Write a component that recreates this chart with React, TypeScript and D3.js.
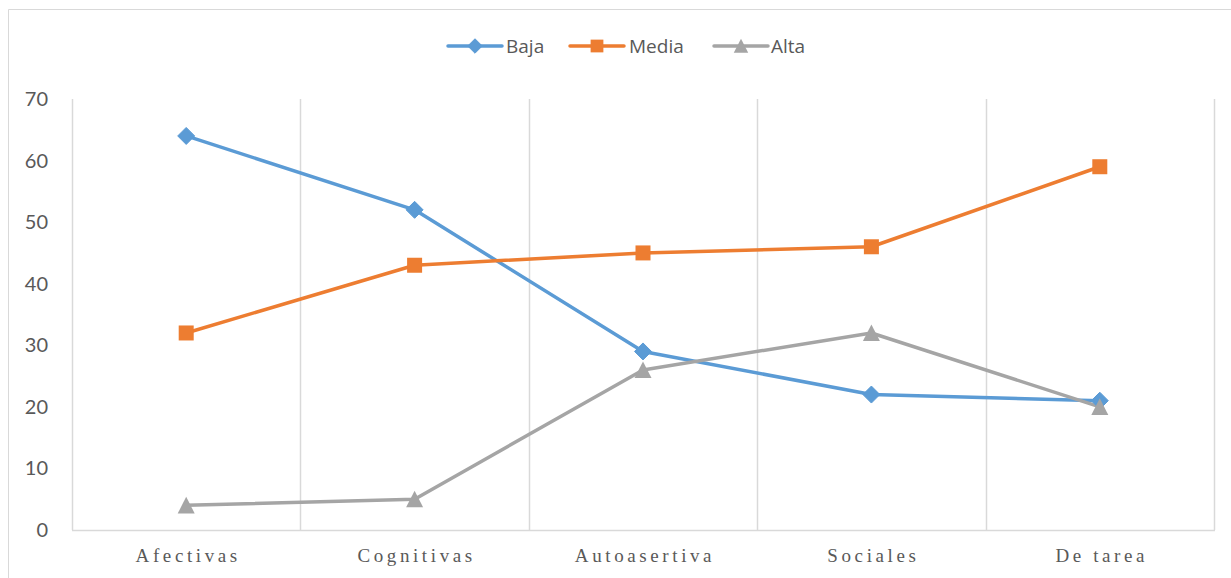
import React from "react";
import * as d3 from "d3";

const categories = ["Afectivas", "Cognitivas", "Autoasertiva", "Sociales", "De tarea"];
const seriesNames = ["Baja", "Media", "Alta"];
const baja = [64, 52, 29, 22, 21];
const media = [32, 43, 45, 46, 59];
const alta = [4, 5, 26, 32, 20];
const yTicks = [0, 10, 20, 30, 40, 50, 60, 70];
const colors = ["#5B9BD5", "#ED7D31", "#A5A5A5"];
const markers = ["diamond", "square", "triangle"];

const W = 1231;
const H = 578;
const left = 72;
const right = 1214;
const top = 99;
const bottom = 530;

function Marker({ type, x, y, color, k = 1 }: { type: string; x: number; y: number; color: string; k?: number }) {
  if (type === "diamond") {
    const r = 8.5 * k;
    return (
      <path
        d={`M${x},${y - r}L${x + r},${y}L${x},${y + r}L${x - r},${y}Z`}
        fill={color}
        stroke={color}
        strokeWidth={1}
        strokeLinejoin="round"
      />
    );
  }
  if (type === "square") {
    const h = 7.5 * k;
    return <rect x={x - h} y={y - h} width={2 * h} height={2 * h} fill={color} />;
  }
  const h = 8.5 * k;
  return <path d={`M${x},${y - h}L${x + h},${y + h * 0.95}L${x - h},${y + h * 0.95}Z`} fill={color} />;
}

export default function App() {
  const x = d3.scalePoint<string>().domain(categories).range([left, right]).padding(0.5);
  const band = (right - left) / categories.length;
  const y = d3.scaleLinear().domain([0, 70]).range([bottom, top]);
  const data = [baja, media, alta];
  const line = d3
    .line<number>()
    .x((_, i) => x(categories[i]) as number)
    .y((d) => y(d));

  const legendItems = [
    { x: 448, tx: 506 },
    { x: 570, tx: 629 },
    { x: 714, tx: 771 },
  ];

  return (
    <svg width={W} height={H} style={{ position: "absolute", left: 0, top: 0, background: "#fff" }}>
      <rect x={0} y={0} width={W} height={H} fill="#fff" />
      <line x1={8.5} y1={9.5} x2={W} y2={9.5} stroke="#d9d9d9" strokeWidth={1} />
      <line x1={8.5} y1={9.5} x2={8.5} y2={H} stroke="#d9d9d9" strokeWidth={1} />

      {d3.range(categories.length + 1).map((i) => {
        const gx = Math.round(left + band * i) + 0.5;
        return <line key={i} x1={gx} x2={gx} y1={top} y2={bottom} stroke="#d9d9d9" strokeWidth={1.5} />;
      })}
      <line x1={left} x2={right + 1} y1={bottom + 0.5} y2={bottom + 0.5} stroke="#d9d9d9" strokeWidth={1.5} />

      {yTicks.map((t) => (
        <text
          key={t}
          x={48}
          y={y(t)}
          dy="0.35em"
          textAnchor="end"
          fontFamily="Lato, 'Open Sans', sans-serif"
          fontSize={20}
          fill="#595959"
        >
          {t}
        </text>
      ))}

      {categories.map((c) => (
        <text
          key={c}
          x={(x(c) as number) + 2}
          y={562}
          textAnchor="middle"
          fontFamily="'Liberation Serif', 'Times New Roman', serif"
          fontSize={19}
          letterSpacing={3.6}
          fill="#595959"
        >
          {c}
        </text>
      ))}

      {data.map((d, si) => (
        <path key={si} d={line(d) || ""} fill="none" stroke={colors[si]} strokeWidth={3.5} strokeLinejoin="round" />
      ))}
      {data.map((d, si) =>
        d.map((v, i) => (
          <Marker key={`${si}-${i}`} type={markers[si]} x={x(categories[i]) as number} y={y(v)} color={colors[si]} />
        ))
      )}

      {seriesNames.map((n, i) => (
        <g key={n}>
          <line x1={legendItems[i].x} x2={legendItems[i].x + 54} y1={46} y2={46} stroke={colors[i]} strokeWidth={3.5} strokeLinecap="round" />
          <Marker type={markers[i]} x={legendItems[i].x + 27} y={46} color={colors[i]} k={0.85} />
          <text
            x={legendItems[i].tx}
            y={46}
            dy="0.35em"
            fontFamily="'Open Sans', Lato, sans-serif"
            fontSize={19}
            fill="#595959"
          >
            {n}
          </text>
        </g>
      ))}
    </svg>
  );
}
